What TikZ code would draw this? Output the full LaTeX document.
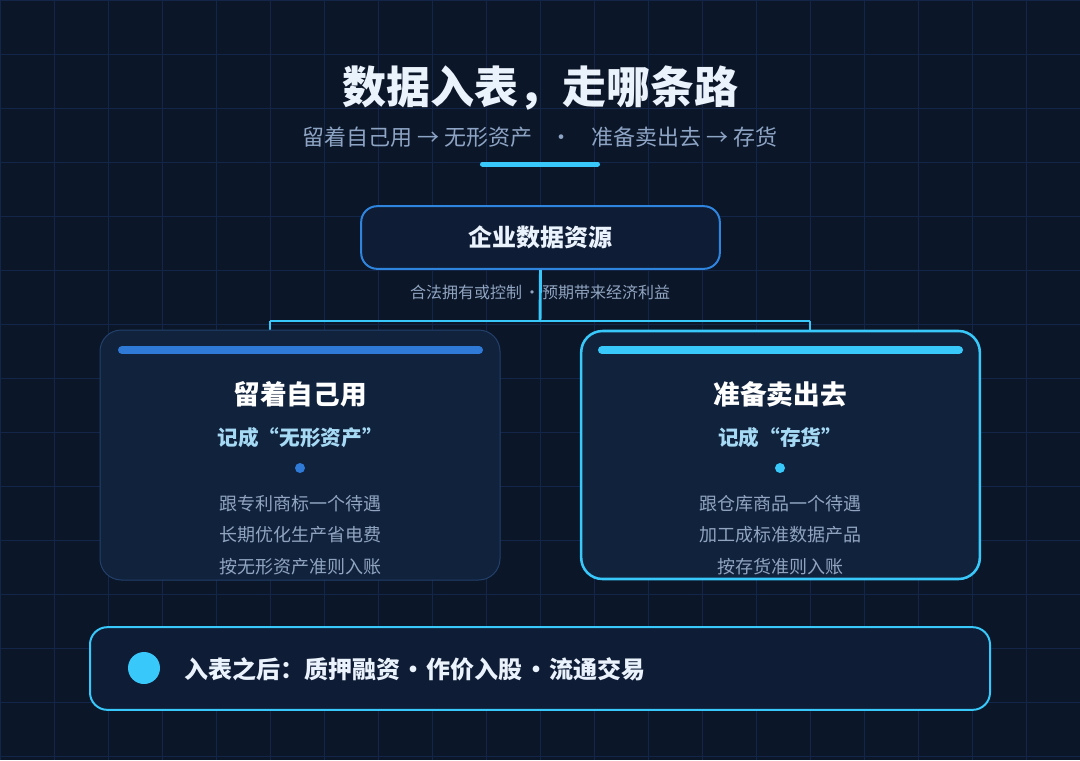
\documentclass[tikz,border=0pt]{standalone}
\usepackage{fontspec}
\setmainfont{Noto Sans CJK SC}
\usetikzlibrary{positioning}
\definecolor{bgnavy}{HTML}{0B1628}
\definecolor{gridblue}{HTML}{13264A}
\definecolor{rootfill}{HTML}{0E1C35}
\definecolor{cardfill}{HTML}{11223D}
\definecolor{cardedge}{HTML}{22406A}
\definecolor{rootblue}{HTML}{2F84DE}
\definecolor{barblue}{HTML}{2F7AD6}
\definecolor{accent}{HTML}{38C8FA}
\definecolor{titlewhite}{HTML}{EAF2FC}
\definecolor{subgray}{HTML}{8EA4C4}
\definecolor{quotecyan}{HTML}{A6DAF4}
\definecolor{linegray}{HTML}{90A4C0}
\pgfdeclarelayer{gridlayer}
\pgfdeclarelayer{edgelayer}
\pgfdeclarelayer{nodelayer}
\pgfsetlayers{gridlayer,edgelayer,nodelayer,main}
\tikzstyle{gridline}=[draw=gridblue,line width=0.75pt]
\tikzstyle{rootbox}=[rounded corners=12pt,draw=rootblue,line width=1.5pt,fill=rootfill,minimum width=269pt,minimum height=47pt,text=titlewhite,font=\fontsize{18pt}{20pt}\selectfont\bfseries]
\tikzstyle{cardbox}=[rounded corners=16pt,fill=cardfill,inner sep=0pt]
\tikzstyle{footbox}=[rounded corners=13pt,draw=accent,line width=1.5pt,fill=rootfill,minimum width=675pt,minimum height=62pt]
\tikzstyle{link}=[draw=accent,line width=2.2pt]
\tikzstyle{topbar}=[line width=6pt,line cap=round]
\tikzstyle{cardtitle}=[inner sep=0pt,text=white,font=\fontsize{20pt}{22pt}\selectfont\bfseries]
\tikzstyle{cardtag}=[inner sep=0pt,text=quotecyan,font=\fontsize{15.5pt}{17pt}\selectfont\bfseries]
\tikzstyle{cardline}=[inner sep=0pt,text=linegray,font=\fontsize{13.5pt}{15pt}\selectfont]
\tikzstyle{dot}=[circle,inner sep=0pt,minimum size=7.5pt]

\begin{document}
\begin{tikzpicture}[x=0.75pt,y=-0.75pt]
	\useasboundingbox (0,0) rectangle (1080,760);
	\begin{pgfonlayer}{gridlayer}
		\fill [bgnavy] (0,0) rectangle (1080,760);
		\foreach \gx in {0,54,...,1080}
			\draw [style=gridline] (\gx,0) -- (\gx,760);
		\foreach \gy in {0,54,...,756}
			\draw [style=gridline] (0,\gy) -- (1080,\gy);
	\end{pgfonlayer}
	\begin{pgfonlayer}{nodelayer}
		\node [style=rootbox] (0) at (540.5, 237.5) {企业数据资源};
		\node [style=cardbox, draw=cardedge, line width=0.75pt, minimum width=300pt, minimum height=187.5pt] (1) at (300, 455) {};
		\node [style=cardbox, draw=accent, line width=1.9pt, minimum width=299pt, minimum height=186pt] (2) at (780.5, 455) {};
		\node [style=footbox] (3) at (540, 668.5) {};
	\end{pgfonlayer}
	\coordinate (j) at (540, 321);
	\coordinate (jl) at (270, 321);
	\coordinate (jr) at (810, 321);
	\begin{pgfonlayer}{edgelayer}
		\draw [style=link] (0.south) -- (j);
		\draw [style=link] (jl) -- (jr);
		\draw [style=link] (jl) -- (jl |- 1.north);
		\draw [style=link] (jr) -- (jr |- 2.north);
	\end{pgfonlayer}
	% heading
	\node [inner sep=0pt, text=titlewhite, font=\fontsize{33pt}{36pt}\selectfont\bfseries] (4) at (540, 88) {数据入表，走哪条路};
	\node [inner sep=0pt, text=subgray, font=\fontsize{16.5pt}{18pt}\selectfont] (5) at (540, 137) {留着自己用 → 无形资产\hspace{14pt}·\hspace{14pt}准备卖出去 → 存货};
	\draw [accent, line width=3.75pt, line cap=round] (482.5, 164) -- (597.5, 164);
	\node [inner sep=0pt, text=linegray, font=\fontsize{12pt}{14pt}\selectfont] (6) at (540, 292) {合法拥有或控制\hspace{1.5pt}·\hspace{1.5pt}预期带来经济利益};
	% left card
	\draw [style=topbar, barblue] (122, 350) -- (479, 350);
	\node [style=cardtitle] (7) at (300, 394) {留着自己用};
	\node [style=cardtag] (8) at (300, 438) {记成“无形资产”};
	\node [style=dot, fill=barblue] (9) at (300, 468) {};
	\node [style=cardline] (10) at (300, 504) {跟专利商标一个待遇};
	\node [style=cardline] (11) at (300, 535) {长期优化生产省电费};
	\node [style=cardline] (12) at (300, 567) {按无形资产准则入账};
	% right card
	\draw [style=topbar, accent] (602, 350) -- (959, 350);
	\node [style=cardtitle] (13) at (780, 394) {准备卖出去};
	\node [style=cardtag] (14) at (780, 438) {记成“存货”};
	\node [style=dot, fill=accent] (15) at (780, 468) {};
	\node [style=cardline] (16) at (780, 504) {跟仓库商品一个待遇};
	\node [style=cardline] (17) at (780, 535) {加工成标准数据产品};
	\node [style=cardline] (18) at (780, 567) {按存货准则入账};
	% footer
	\node [circle, fill=accent, inner sep=0pt, minimum size=24pt] (19) at (144, 668) {};
	\node [anchor=west, inner sep=0pt, text=titlewhite, font=\fontsize{18pt}{20pt}\selectfont\bfseries] (20) at (184, 669) {入表之后：质押融资\hspace{1pt}•\hspace{1pt}作价入股\hspace{1pt}•\hspace{1pt}流通交易};
\end{tikzpicture}
\end{document}
